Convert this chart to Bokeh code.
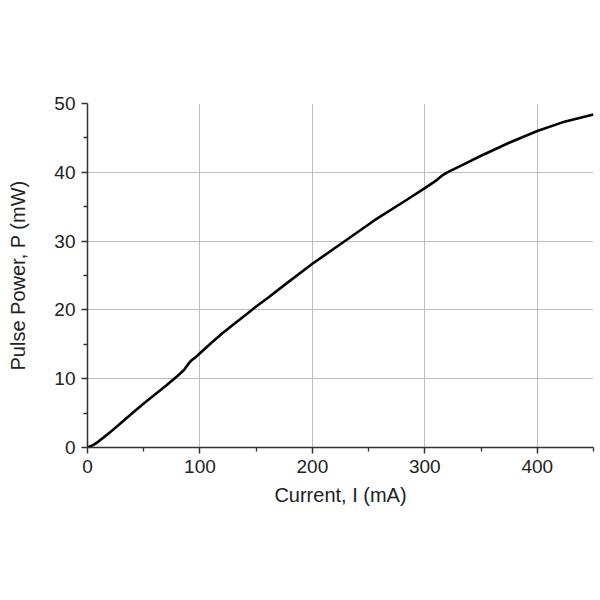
from bokeh.plotting import figure
from bokeh.models import Range1d, FixedTicker
from bokeh.embed import file_html
from bokeh.resources import INLINE

current_ma = [0, 5, 10, 20, 30, 40, 50, 60, 70, 80, 86, 89, 92, 96, 100, 110, 120, 130, 140, 150, 160, 175, 200, 228, 255, 283, 300, 310, 316, 320, 335, 350, 375, 400, 425, 450]
power_mw = [0, 0.35, 0.9, 2.2, 3.6, 5.0, 6.4, 7.7, 9.0, 10.4, 11.3, 12.0, 12.6, 13.1, 13.7, 15.2, 16.6, 17.9, 19.2, 20.5, 21.7, 23.6, 26.7, 29.9, 33.0, 35.9, 37.7, 38.8, 39.6, 40.0, 41.2, 42.4, 44.3, 46.0, 47.4, 48.4]

x_major = [0, 100, 200, 300, 400]
x_minor = [50, 150, 250, 350, 450]
y_major = [0, 10, 20, 30, 40, 50]
y_minor = [5, 15, 25, 35, 45]

p = figure(frame_width=506, frame_height=344, min_border_left=87, min_border_right=7,
           min_border_top=103, min_border_bottom=153,
           x_range=Range1d(0, 450), y_range=Range1d(0, 50),
           output_backend="svg", toolbar_location=None)
p.outline_line_color = None
p.background_fill_color = "white"
p.border_fill_color = "white"

p.line(current_ma, power_mw, line_color="black", line_width=2.6, line_join="round")

font = "Liberation Sans"
for ax in (p.xaxis[0], p.yaxis[0]):
    ax.axis_line_color = "#333333"
    ax.axis_line_width = 1.5
    ax.major_tick_line_color = "#333333"
    ax.minor_tick_line_color = "#333333"
    ax.major_tick_line_width = 1.5
    ax.minor_tick_line_width = 1.3
    ax.major_tick_out = 6
    ax.major_tick_in = 0
    ax.minor_tick_out = 4
    ax.minor_tick_in = 0
    ax.major_label_text_font = font
    ax.major_label_text_font_size = "19px"
    ax.major_label_text_color = "#222222"
    ax.axis_label_text_font = font
    ax.axis_label_text_font_size = "20px"
    ax.axis_label_text_font_style = "normal"
    ax.axis_label_text_color = "#222222"

p.xaxis[0].ticker = FixedTicker(ticks=x_major, minor_ticks=x_minor)
p.yaxis[0].ticker = FixedTicker(ticks=y_major, minor_ticks=y_minor)
p.xaxis[0].axis_label = "Current, I (mA)"
p.yaxis[0].axis_label = "Pulse Power, P (mW)"
p.xaxis[0].major_label_standoff = 6
p.yaxis[0].major_label_standoff = 6
p.xaxis[0].axis_label_standoff = 8
p.yaxis[0].axis_label_standoff = 22

p.xgrid[0].ticker = FixedTicker(ticks=x_major)
p.ygrid[0].ticker = FixedTicker(ticks=y_major)
for g in (p.xgrid[0], p.ygrid[0]):
    g.grid_line_color = "#bdbdbd"
    g.grid_line_width = 1

open("out.html", "w").write(file_html(p, INLINE))
